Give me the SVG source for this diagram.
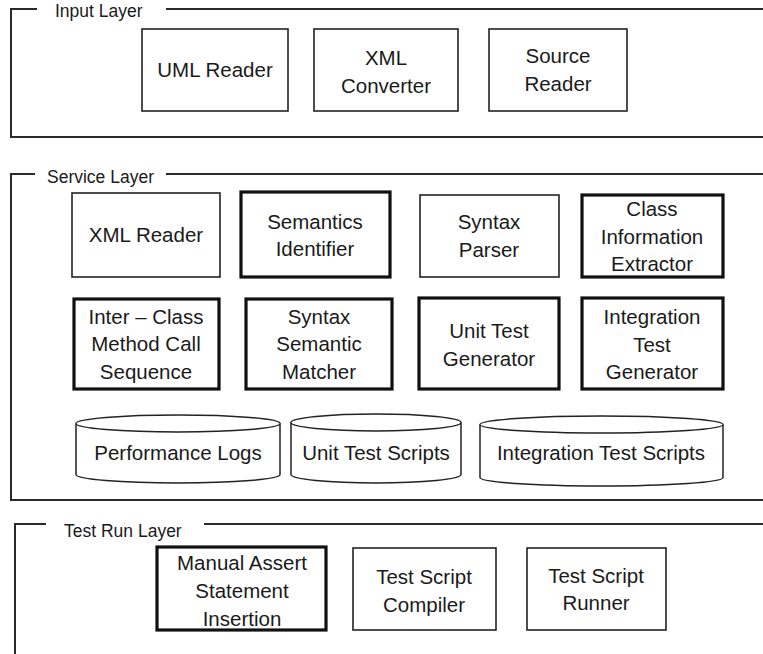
<svg xmlns="http://www.w3.org/2000/svg" width="763" height="654" viewBox="0 0 763 654">
<style>
  text { font-family: "Liberation Sans", Arial, sans-serif; fill: #1a1a1a; text-anchor: middle; }
  .t { font-size: 20.5px; }
  .lbl { font-size: 17.5px; text-anchor: start; }
  .frame { fill: none; stroke: #2a2a2a; stroke-width: 2; }
  .thin { fill: #fff; stroke: #222; stroke-width: 1.6; }
  .thick { fill: #fff; stroke: #111; stroke-width: 3.2; }
  .cyl { fill: #fff; stroke: #222; stroke-width: 1.5; }
</style>

<g id="input-layer">
  <path class="frame" d="M37 9 H11 V137 H770"/>
  <path class="frame" d="M166 9 H770"/>
  <text class="lbl" x="55" y="17">Input Layer</text>
</g>
<g id="service-layer">
  <path class="frame" d="M35 174 H11 V500 H770"/>
  <path class="frame" d="M166 174 H770"/>
  <text class="lbl" x="47" y="183">Service Layer</text>
</g>
<g id="test-run-layer">
  <path class="frame" d="M46 524 H15 V660"/>
  <path class="frame" d="M204 524 H770"/>
  <text class="lbl" x="64" y="537">Test Run Layer</text>
</g>

<g id="connectors"></g>

<g id="uml-reader">
  <rect class="thin" x="142" y="29" width="146" height="82"/>
  <text class="t" x="215" y="77">UML Reader</text>
</g>
<g id="xml-converter">
  <rect class="thin" x="314" y="29" width="144" height="82"/>
  <text class="t" x="386" y="65">XML</text>
  <text class="t" x="386" y="93">Converter</text>
</g>
<g id="source-reader">
  <rect class="thin" x="489" y="29" width="138" height="82"/>
  <text class="t" x="558" y="63">Source</text>
  <text class="t" x="558" y="91">Reader</text>
</g>

<g id="xml-reader">
  <rect class="thin" x="72" y="193" width="148" height="84"/>
  <text class="t" x="146" y="242">XML Reader</text>
</g>
<g id="semantics-identifier">
  <rect class="thick" x="241" y="192" width="149" height="85"/>
  <text class="t" x="315" y="229">Semantics</text>
  <text class="t" x="315" y="256">Identifier</text>
</g>
<g id="syntax-parser">
  <rect class="thin" x="420" y="195" width="139" height="82"/>
  <text class="t" x="489" y="229">Syntax</text>
  <text class="t" x="489" y="257">Parser</text>
</g>
<g id="class-information-extractor">
  <rect class="thick" x="582" y="195" width="141" height="82"/>
  <text class="t" x="652" y="216">Class</text>
  <text class="t" x="652" y="244">Information</text>
  <text class="t" x="652" y="271">Extractor</text>
</g>

<g id="inter-class-method-call-sequence">
  <rect class="thick" x="74" y="299" width="145" height="90"/>
  <text class="t" x="146" y="324">Inter – Class</text>
  <text class="t" x="146" y="351">Method Call</text>
  <text class="t" x="146" y="379">Sequence</text>
</g>
<g id="syntax-semantic-matcher">
  <rect class="thick" x="246" y="299" width="146" height="90"/>
  <text class="t" x="319" y="324">Syntax</text>
  <text class="t" x="319" y="351">Semantic</text>
  <text class="t" x="319" y="379">Matcher</text>
</g>
<g id="unit-test-generator">
  <rect class="thick" x="419" y="298" width="140" height="91"/>
  <text class="t" x="489" y="338">Unit Test</text>
  <text class="t" x="489" y="366">Generator</text>
</g>
<g id="integration-test-generator">
  <rect class="thick" x="582" y="298" width="141" height="91"/>
  <text class="t" x="652" y="324">Integration</text>
  <text class="t" x="652" y="352">Test</text>
  <text class="t" x="652" y="379">Generator</text>
</g>

<g id="performance-logs">
  <path class="cyl" d="M76 423.5 V474.5 A102 8.5 0 0 0 280 474.5 V423.5 A102 8.5 0 0 0 76 423.5 Z"/>
  <path class="cyl" d="M76 423.5 A102 8.5 0 0 0 280 423.5"/>
  <text class="t" x="178" y="460">Performance Logs</text>
</g>
<g id="unit-test-scripts">
  <path class="cyl" d="M291 422.5 V474.5 A85 8.5 0 0 0 461 474.5 V422.5 A85 8.5 0 0 0 291 422.5 Z"/>
  <path class="cyl" d="M291 422.5 A85 8.5 0 0 0 461 422.5"/>
  <text class="t" x="376" y="460">Unit Test Scripts</text>
</g>
<g id="integration-test-scripts">
  <path class="cyl" d="M480 424.5 V477.5 A121.5 8.5 0 0 0 723 477.5 V424.5 A121.5 8.5 0 0 0 480 424.5 Z"/>
  <path class="cyl" d="M480 424.5 A121.5 8.5 0 0 0 723 424.5"/>
  <text class="t" x="601" y="460">Integration Test Scripts</text>
</g>

<g id="manual-assert-statement-insertion">
  <rect class="thick" x="157" y="547" width="169" height="83"/>
  <text class="t" x="242" y="570">Manual Assert</text>
  <text class="t" x="242" y="598">Statement</text>
  <text class="t" x="242" y="626">Insertion</text>
</g>
<g id="test-script-compiler">
  <rect class="thin" x="353" y="548" width="143" height="82"/>
  <text class="t" x="424" y="584">Test Script</text>
  <text class="t" x="424" y="612">Compiler</text>
</g>
<g id="test-script-runner">
  <rect class="thin" x="527" y="548" width="139" height="82"/>
  <text class="t" x="596" y="583">Test Script</text>
  <text class="t" x="596" y="610">Runner</text>
</g>
</svg>
